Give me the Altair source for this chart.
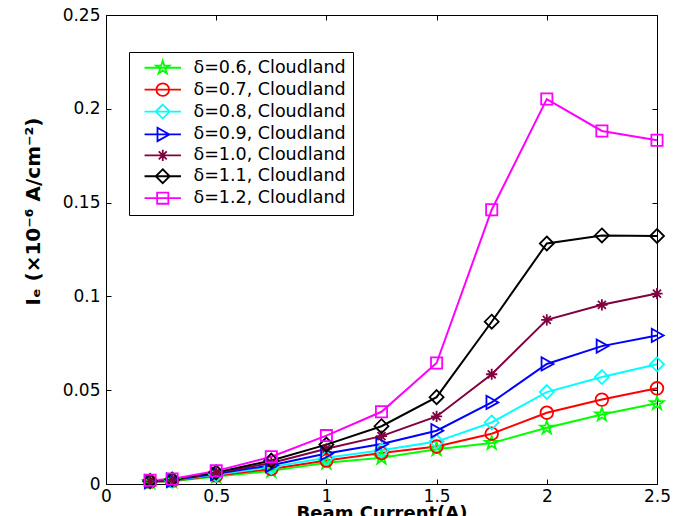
import math
import altair as alt
import pandas as pd

# ---- data ----
beam_current = [0.2, 0.3, 0.5, 0.75, 1.0, 1.25, 1.5, 1.75, 2.0, 2.25, 2.5]
ie_d06 = [0.0010, 0.0015, 0.0040, 0.0070, 0.0113, 0.0140, 0.0185, 0.0218, 0.0300, 0.0370, 0.0430]
ie_d07 = [0.0011, 0.0017, 0.0045, 0.0080, 0.0125, 0.0165, 0.0200, 0.0268, 0.0380, 0.0450, 0.0510]
ie_d08 = [0.0012, 0.0018, 0.0050, 0.0090, 0.0140, 0.0180, 0.0226, 0.0328, 0.0490, 0.0570, 0.0638]
ie_d09 = [0.0013, 0.0020, 0.0055, 0.0100, 0.0163, 0.0213, 0.0284, 0.0435, 0.0640, 0.0735, 0.0792]
ie_d10 = [0.0014, 0.0022, 0.0060, 0.0112, 0.0188, 0.0255, 0.0360, 0.0585, 0.0875, 0.0955, 0.1015]
ie_d11 = [0.0016, 0.0024, 0.0062, 0.0125, 0.0210, 0.0308, 0.0463, 0.0865, 0.1282, 0.1325, 0.1322]
ie_d12 = [0.0020, 0.0027, 0.0070, 0.0145, 0.0258, 0.0385, 0.0645, 0.1462, 0.2052, 0.1882, 0.1832]

series_labels = ["δ=0.6, Cloudland", "δ=0.7, Cloudland", "δ=0.8, Cloudland",
                 "δ=0.9, Cloudland", "δ=1.0, Cloudland", "δ=1.1, Cloudland",
                 "δ=1.2, Cloudland"]
series_values = [ie_d06, ie_d07, ie_d08, ie_d09, ie_d10, ie_d11, ie_d12]
series_colors = ["#00ff00", "#ff0000", "#00ffff", "#0000ff", "#800040", "#000000", "#ff00ff"]

x_ticks = [0, 0.5, 1, 1.5, 2, 2.5]
y_ticks = [0, 0.05, 0.1, 0.15, 0.2, 0.25]

rows = []
for lab, vals in zip(series_labels, series_values):
    for xv, yv in zip(beam_current, vals):
        rows.append({"x": xv, "y": yv, "series": lab})
df = pd.DataFrame(rows)

# ---- marker shapes (unit paths) ----
def fmt(v):
    return f"{v:.3f}"

def star_path(R=1.0, r=0.382):
    pts = []
    for k in range(10):
        ang = math.radians(-90 + 36 * k)
        rad = R if k % 2 == 0 else r
        pts.append((rad * math.cos(ang), rad * math.sin(ang)))
    return "M" + "L".join(f"{fmt(px)},{fmt(py)}" for px, py in pts) + "Z"

circle = "M-0.9,0A0.9,0.9 0 1,1 0.9,0A0.9,0.9 0 1,1 -0.9,0Z"
diamond = "M0,-1L1,0L0,1L-1,0Z"
tri_right = "M-0.75,-0.95L0.95,0L-0.75,0.95Z"
asterisk = "M-0.8,0L0.8,0M0,-0.8L0,0.8M-0.57,-0.57L0.57,0.57M-0.57,0.57L0.57,-0.57"
square = "M-0.8,-0.8L0.8,-0.8L0.8,0.8L-0.8,0.8Z"
marker_paths = [star_path(), circle, diamond, tri_right, asterisk, diamond, square]
legend_paths = ["M-2.6,0L2.6,0" + p for p in marker_paths]

FONT = "DejaVu Sans"

xs = alt.Scale(domain=[0, 2.5], nice=False, zero=False)
ys = alt.Scale(domain=[0, 0.25], nice=False, zero=False)
cs = alt.Scale(domain=series_labels, range=series_colors)

base = alt.Chart(df)

common_axis = dict(offset=-5, tickSize=5, tickColor="black", tickWidth=1,
                   domain=False, grid=False, labelFont=FONT, labelFontSize=17,
                   labelColor="black", labelFlush=False, format="~g")

lines = base.mark_line(strokeWidth=2).encode(
    x=alt.X("x:Q", scale=xs, axis=alt.Axis(
        orient="bottom", values=x_ticks, labelPadding=4,
        title="Beam Current(A)", titleFont=FONT, titleFontSize=18,
        titleFontWeight="bold", titleColor="black", titleBaseline="top",
        titleY=25, **common_axis)),
    y=alt.Y("y:Q", scale=ys, axis=alt.Axis(
        orient="left", values=y_ticks, labelPadding=6,
        title="Iₑ (×10⁻⁶ A/cm⁻²)", titleFont=FONT, titleFontSize=20,
        titleFontWeight="bold", titleColor="black",
        titleX=-68, titleY=196,
        **common_axis)),
    color=alt.Color("series:N", scale=cs, legend=None),
)

side_axis = dict(offset=-5, tickSize=5, tickColor="black", tickWidth=1,
                 domain=False, grid=False, labels=False, title=None)

points = base.mark_point(filled=False, size=196, strokeWidth=1.8, opacity=1).encode(
    x=alt.X("x:Q", scale=xs, axis=alt.Axis(orient="top", values=x_ticks, **side_axis)),
    y=alt.Y("y:Q", scale=ys, axis=alt.Axis(orient="right", values=y_ticks, **side_axis)),
    color=alt.Color("series:N", scale=cs, legend=None),
    shape=alt.Shape("series:N", scale=alt.Scale(domain=series_labels, range=marker_paths), legend=None),
)

leg_props = dict(title=None, orient="none", legendX=23, legendY=37,
                 strokeColor="black", fillColor="white", padding=7,
                 labelFont=FONT, labelFontSize=17.5, labelColor="black",
                 symbolSize=196, symbolStrokeWidth=1.8, symbolOpacity=1,
                 symbolOffset=18, labelOffset=22, rowPadding=0.9, cornerRadius=0,
                 labelLimit=400)

legend_layer = base.mark_point(filled=False, opacity=0, size=1).encode(
    x=alt.X("x:Q", scale=xs, axis=None),
    y=alt.Y("y:Q", scale=ys, axis=None),
    color=alt.Color("series:N", scale=cs, legend=alt.Legend(**leg_props)),
    shape=alt.Shape("series:N", scale=alt.Scale(domain=series_labels, range=legend_paths),
                    legend=alt.Legend(**leg_props)),
)

chart = alt.layer(lines, points, legend_layer).resolve_scale(
    color="independent", shape="independent"
).resolve_axis(
    x="independent", y="independent"
).properties(
    width=551, height=469,
    autosize=alt.AutoSizeParams(type="none"),
    padding={"left": 106, "top": 15, "right": 28, "bottom": 40},
    background="white",
).configure_view(stroke="black", strokeWidth=1)

chart.save("out.html", embed_options={"renderer": "svg", "actions": False})
